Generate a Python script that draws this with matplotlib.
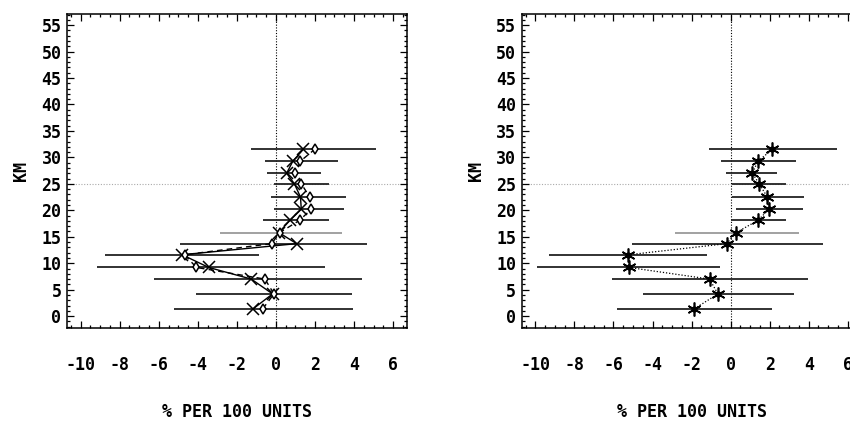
import matplotlib
matplotlib.use("Agg")
import matplotlib.pyplot as plt
from matplotlib.ticker import MultipleLocator, FixedLocator

# ---- data ----
altitude_km = [1.4, 4.2, 7.0, 9.2, 11.6, 13.7, 15.8, 18.1, 20.2, 22.5, 25.0, 27.0, 29.3, 31.5]

left_x_series = [-1.16, -0.17, -1.26, -3.44, -4.80, 1.06, 0.15, 0.72, 1.30, 1.26, 0.95, 0.55, 0.87, 1.40]
left_diamond_series = [-0.67, -0.10, -0.56, -4.07, -4.68, -0.22, 0.20, 1.21, 1.81, 1.74, 1.30, 1.00, 1.26, 1.98]
left_bar_low = [-5.23, -4.07, -6.22, -9.16, -8.77, -4.89, -2.84, -0.65, -0.10, -0.24, -0.12, -0.44, -0.56, -1.30]
left_bar_high = [3.97, 3.91, 4.43, 2.50, -0.84, 4.68, 3.37, 2.72, 3.49, 3.60, 2.72, 2.29, 3.18, 5.11]

right_star_series = [-1.85, -0.65, -1.08, -5.21, -5.23, -0.20, 0.29, 1.40, 1.97, 1.88, 1.47, 1.11, 1.40, 2.14]
right_bar_low = [-5.81, -4.50, -6.07, -9.93, -9.32, -5.04, -2.84, 0.00, 0.26, 0.05, 0.07, -0.22, -0.51, -1.11]
right_bar_high = [2.14, 3.25, 3.97, -0.56, -1.21, 4.75, 3.50, 2.85, 3.71, 3.76, 2.84, 2.39, 3.33, 5.45]

x_tick_values = [-10, -8, -6, -4, -2, 0, 2, 4, 6]
x_tick_labels = ["-10", "-8", "-6", "-4", "-2", "0", "2", "4", "6"]
y_tick_values = [0, 5, 10, 15, 20, 25, 30, 35, 40, 45, 50, 55]
x_label = "% PER 100 UNITS"
y_label = "KM"
reference_altitude = 25
light_bar_altitude = 15.8

FONT = dict(family="DejaVu Sans Mono", weight="bold")
FS = 12

fig = plt.figure(figsize=(8.5, 4.22), dpi=100)
W, H = 850.0, 422.0
ax_w = (406.7 - 67) / W
ax_h = (328.3 - 14) / H
ax_b = (H - 328.3) / H
ax1 = fig.add_axes([67 / W, ax_b, ax_w, ax_h])
ax2 = fig.add_axes([521.7 / W, ax_b, ax_w, ax_h])


def style_axes(ax):
    ax.set_xlim(-10.7, 6.7)
    ax.set_ylim(-2.3, 57.1)
    ax.xaxis.set_major_locator(FixedLocator(x_tick_values))
    ax.xaxis.set_minor_locator(MultipleLocator(0.5))
    ax.yaxis.set_major_locator(FixedLocator(y_tick_values))
    ax.yaxis.set_minor_locator(MultipleLocator(1))
    ax.set_xticklabels(x_tick_labels, fontsize=FS, **FONT)
    ax.set_yticklabels([str(v) for v in y_tick_values], fontsize=FS, **FONT)
    ax.tick_params(which="both", direction="in", top=True, right=True,
                   color="black", width=0.9)
    ax.tick_params(which="major", length=5)
    ax.tick_params(which="minor", length=2.5)
    ax.tick_params(axis="x", which="major", pad=20)
    ax.tick_params(axis="y", which="major", pad=4)
    for s in ax.spines.values():
        s.set_linewidth(1.1)
        s.set_color("black")
    ax.set_xlabel(x_label, fontsize=FS, labelpad=21, **FONT)
    ax.set_ylabel(y_label, fontsize=FS, labelpad=8, **FONT)
    ax.axhline(reference_altitude, color="#aaaaaa", lw=0.8, ls=(0, (1, 1.5)), zorder=1)
    ax.axvline(0, color="black", lw=0.8, ls=(0, (1, 1.5)), zorder=1)


def draw_bars(ax, lows, highs):
    for y, lo, hi in zip(altitude_km, lows, highs):
        col = "#9a9a9a" if abs(y - light_bar_altitude) < 0.01 else "#222222"
        ax.hlines(y, lo, hi, color=col, lw=1.3, zorder=2)


# ---- left panel ----
style_axes(ax1)
draw_bars(ax1, left_bar_low, left_bar_high)
ax1.plot(left_x_series, altitude_km, color="black", lw=1.0, marker="x",
         markersize=8.5, markeredgewidth=1.1, zorder=3)
ax1.plot(left_diamond_series, altitude_km, color="black", lw=1.0, ls=(0, (4, 3)),
         marker="d", markersize=5.5, markerfacecolor="white", markeredgewidth=1.1, zorder=3)

# ---- right panel ----
style_axes(ax2)
draw_bars(ax2, right_bar_low, right_bar_high)
ax2.plot(right_star_series, altitude_km, color="black", lw=0.9, ls=(0, (1, 1.5)),
         marker=(6, 2, 0), markersize=10, markeredgewidth=1.2, zorder=3)
ax2.plot(right_star_series, altitude_km, ls="none", marker="o", markersize=3.5,
         color="black", zorder=4)

fig.savefig("out.png", dpi=100)
